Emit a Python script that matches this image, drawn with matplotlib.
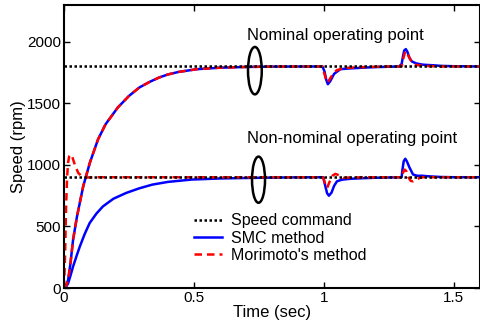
import matplotlib
matplotlib.use("Agg")
import matplotlib.pyplot as plt
from matplotlib.patches import Ellipse

plt.rcParams['font.family'] = ['Liberation Sans', 'DejaVu Sans']

# ---- data ----
cmd_t = [0.0, 1.6]
cmd_nominal = [1800, 1800]
cmd_nonnominal = [900, 900]

# Nominal operating point, SMC method
nom_smc_t = [0, 0.008, 0.016, 0.025, 0.035, 0.05, 0.074, 0.1, 0.131, 0.16, 0.207, 0.25,
             0.29, 0.33, 0.366, 0.4, 0.442, 0.512, 0.6, 0.7, 0.8, 0.995, 1.003, 1.01,
             1.016, 1.025, 1.04, 1.064, 1.1, 1.15, 1.2, 1.29, 1.30, 1.305, 1.31, 1.316,
             1.322, 1.33, 1.34, 1.356, 1.38, 1.4, 1.42, 1.45, 1.5, 1.6]
nom_smc_v = [0, 20, 65, 200, 391, 580, 826, 1020, 1207, 1330, 1466, 1560,
             1629, 1675, 1710, 1735, 1756, 1778, 1790, 1796, 1799, 1800, 1760, 1690,
             1656, 1680, 1740, 1778, 1784, 1790, 1795, 1800, 1820, 1880, 1930, 1941,
             1920, 1870, 1840, 1825, 1815, 1812, 1810, 1805, 1802, 1800]

# Nominal operating point, Morimoto's method
nom_mor_t = [0, 0.008, 0.016, 0.025, 0.035, 0.05, 0.074, 0.1, 0.131, 0.16, 0.207, 0.25,
             0.29, 0.33, 0.366, 0.4, 0.442, 0.512, 0.6, 0.7, 0.8, 0.995, 1.008, 1.015,
             1.03, 1.05, 1.08, 1.15, 1.25, 1.30, 1.307, 1.314, 1.322, 1.335, 1.35, 1.38,
             1.45, 1.6]
nom_mor_v = [0, 20, 65, 200, 391, 580, 826, 1020, 1207, 1330, 1466, 1560,
             1629, 1675, 1710, 1735, 1756, 1778, 1790, 1796, 1799, 1800, 1700, 1668,
             1720, 1770, 1788, 1795, 1800, 1800, 1870, 1925, 1905, 1850, 1815, 1805,
             1800, 1800]

# Non-nominal operating point, SMC method
non_smc_t = [0, 0.008, 0.016, 0.025, 0.035, 0.05, 0.061, 0.08, 0.099, 0.125, 0.15, 0.19,
             0.239, 0.29, 0.34, 0.4, 0.49, 0.6, 0.7, 0.8, 0.9, 0.998, 1.006, 1.013,
             1.02, 1.03, 1.04, 1.051, 1.07, 1.1, 1.15, 1.2, 1.3, 1.303, 1.308, 1.314,
             1.32, 1.33, 1.344, 1.36, 1.38, 1.4, 1.45, 1.5, 1.6]
non_smc_v = [0, 10, 38, 100, 174, 270, 337, 440, 528, 605, 663, 725,
             772, 810, 840, 862, 881, 890, 894, 897, 899, 900, 830, 770,
             750, 775, 830, 867, 880, 887, 892, 896, 900, 960, 1030, 1050,
             1030, 980, 922, 912, 912, 908, 902, 900, 900]

# Non-nominal operating point, Morimoto's method
non_mor_t = [0, 0.004, 0.008, 0.012, 0.016, 0.02, 0.025, 0.032, 0.042, 0.055, 0.07, 0.09,
             0.12, 0.998, 1.005, 1.013, 1.022, 1.035, 1.045, 1.06, 1.077, 1.1, 1.2, 1.3,
             1.306, 1.312, 1.318, 1.326, 1.335, 1.344, 1.355, 1.37, 1.39, 1.42, 1.6]
non_mor_v = [0, 250, 650, 900, 1020, 1070, 1085, 1065, 1000, 935, 905, 898,
             900, 900, 850, 813, 860, 915, 927, 915, 895, 898, 900, 900,
             940, 962, 950, 900, 870, 867, 880, 895, 903, 900, 900]

labels = ["Speed command", "SMC method", "Morimoto's method"]
x_ticks = [0, 0.5, 1, 1.5]
x_ticklabels = ["0", "0.5", "1", "1.5"]
y_ticks = [0, 500, 1000, 1500, 2000]

# ---- figure ----
fig = plt.figure(figsize=(4.81, 3.29), dpi=100)
ax = fig.add_axes([0.133, 0.1246, 0.864, 0.8604])

blue = (0.0, 0.0, 1.0)
red = (1.0, 0.0, 0.0)

h_smc, = ax.plot(nom_smc_t, nom_smc_v, color=blue, lw=1.8, label=labels[1])
ax.plot(non_smc_t, non_smc_v, color=blue, lw=1.8)
h_mor, = ax.plot(nom_mor_t, nom_mor_v, color=red, lw=1.8, ls=(0, (3, 2)), label=labels[2])
ax.plot(non_mor_t, non_mor_v, color=red, lw=1.8, ls=(0, (3, 2)))
h_cmd, = ax.plot(cmd_t, cmd_nominal, color='black', lw=1.8, ls=(0, (1, 1)), label=labels[0])
ax.plot(cmd_t, cmd_nonnominal, color='black', lw=1.8, ls=(0, (1, 1)))

ax.add_patch(Ellipse((0.735, 1766), 0.053, 385, fill=False, ec='black', lw=1.8, zorder=5))
ax.add_patch(Ellipse((0.749, 880), 0.05, 375, fill=False, ec='black', lw=1.8, zorder=5))

ax.text(0.705, 2050, "Nominal operating point", fontsize=12, va='center', ha='left')
ax.text(0.705, 1215, "Non-nominal operating point", fontsize=12, va='center', ha='left')

ax.set_xlim(0, 1.6)
ax.set_ylim(0, 2300)
ax.set_xticks(x_ticks)
ax.set_xticklabels(x_ticklabels)
ax.set_yticks(y_ticks)
ax.tick_params(direction='in', top=True, right=True, length=4, width=1, labelsize=11, pad=2)
for s in ax.spines.values():
    s.set_linewidth(1.5)

ax.set_xlabel("Time (sec)", fontsize=12, labelpad=0)
ax.set_ylabel("Speed (rpm)", fontsize=12, labelpad=1)

ax.legend(handles=[h_cmd, h_smc, h_mor], loc='center left', bbox_to_anchor=(0.314, 0.176),
          frameon=False, fontsize=11.5, borderpad=0, borderaxespad=0, handlelength=1.7,
          handletextpad=0.6, labelspacing=0.15)

fig.savefig("out.png", dpi=100)
